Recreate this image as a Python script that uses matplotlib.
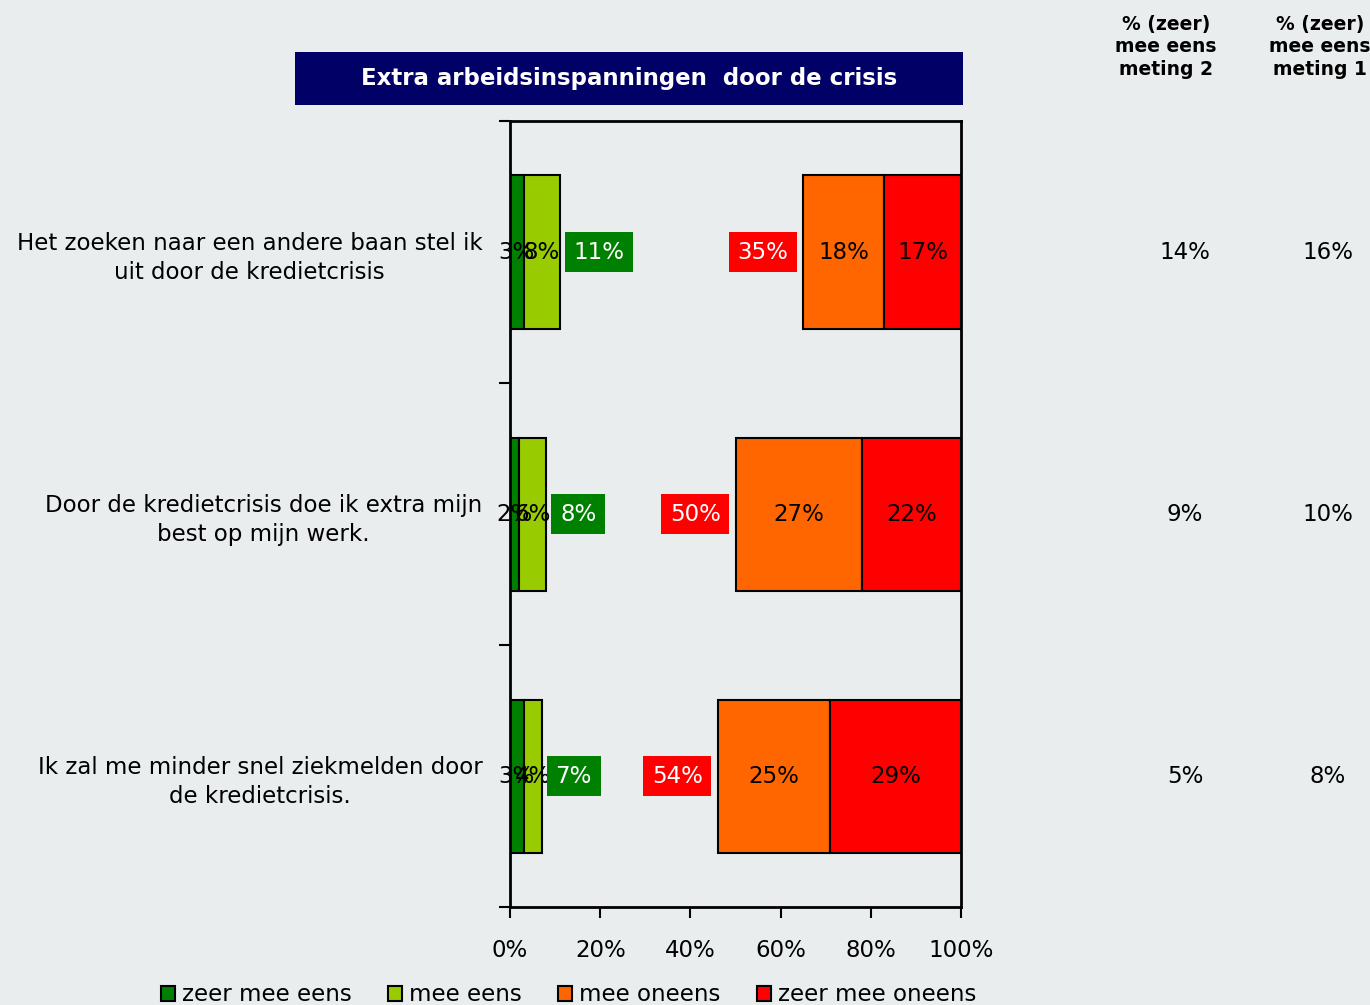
import matplotlib
matplotlib.use("Agg")
from matplotlib import pyplot as plt
from matplotlib.patches import Rectangle, Patch

categories = ["Het zoeken naar een andere baan stel ik\nuit door de kredietcrisis",
              "Door de kredietcrisis doe ik extra mijn\nbest op mijn werk.",
              "Ik zal me minder snel ziekmelden door\nde kredietcrisis."]
zeer_eens = [3, 2, 3]
eens = [8, 6, 4]
oneens = [18, 27, 25]
zeer_oneens = [17, 22, 29]
totaal_eens = [11, 8, 7]
totaal_oneens = [35, 50, 54]
meting2 = ["14%", "9%", "5%"]
meting1 = ["16%", "10%", "8%"]
legend_labels = ["zeer mee eens", "mee eens", "mee oneens", "zeer mee oneens"]
x_ticks = [0, 20, 40, 60, 80, 100]

bg = "#E9EDEE"
c_dg = "#008000"
c_lg = "#99CC00"
c_or = "#FF6600"
c_rd = "#FF0000"

plt.rcParams['font.family'] = ['DejaVu Sans']

fig = plt.figure(figsize=(13.7, 10.05), dpi=100)
fig.patch.set_facecolor(bg)
ax = fig.add_axes([0.3723, 0.0975, 0.3292, 0.7821])
ax.set_facecolor(bg)

y = list(range(len(categories)))
h = 0.584
fs = 16.5

for i in y:
    ax.barh(i, zeer_eens[i], left=0, height=h, color=c_dg, edgecolor="black", linewidth=1.5)
    ax.barh(i, eens[i], left=zeer_eens[i], height=h, color=c_lg, edgecolor="black", linewidth=1.5)
    start = 100 - totaal_oneens[i]
    red_start = 100 - zeer_oneens[i]
    ax.barh(i, red_start - start, left=start, height=h, color=c_or, edgecolor="black", linewidth=1.5)
    ax.barh(i, zeer_oneens[i], left=red_start, height=h, color=c_rd, edgecolor="black", linewidth=1.5)

    ax.text(zeer_eens[i] / 2, i, "%d%%" % zeer_eens[i], ha="center", va="center", fontsize=fs)
    ax.text(zeer_eens[i] + eens[i] / 2, i, "%d%%" % eens[i], ha="center", va="center", fontsize=fs)
    ax.text((start + red_start) / 2, i, "%d%%" % oneens[i], ha="center", va="center", fontsize=fs)
    ax.text((red_start + 100) / 2, i, "%d%%" % zeer_oneens[i], ha="center", va="center", fontsize=fs)

    # totals in coloured boxes
    ax.text(totaal_eens[i] + 3.1, i, "%d%%" % totaal_eens[i], ha="left", va="center", fontsize=fs,
            color="white", bbox=dict(boxstyle="square,pad=0.38", fc=c_dg, ec="none"))
    ax.text(start - 3.3, i, "%d%%" % totaal_oneens[i], ha="right", va="center", fontsize=fs,
            color="white", bbox=dict(boxstyle="square,pad=0.38", fc=c_rd, ec="none"))

ax.set_xlim(0, 100)
ax.set_ylim(len(categories) - 0.5, -0.5)

ax.set_xticks(x_ticks)
ax.set_xticklabels(["%d%%" % v for v in x_ticks], fontsize=fs)
ax.tick_params(axis="x", direction="out", length=8, width=1.5, pad=15)
ax.set_yticks(y)
ax.set_yticklabels(categories, fontsize=fs, multialignment="center", linespacing=1.35)
ax.tick_params(axis="y", which="major", length=0, pad=20)
ax.set_yticks([-0.5, 0.5, 1.5, 2.5], minor=True)
ax.tick_params(axis="y", which="minor", direction="out", length=8, width=1.5)
for s in ax.spines.values():
    s.set_linewidth(2)

# right hand columns
for i in y:
    yy = ax.transData.transform((0, i))[1] / fig.bbox.height
    fig.text(1185 / 1370, yy, meting2[i], ha="center", va="center", fontsize=fs)
    fig.text(1328 / 1370, yy, meting1[i], ha="center", va="center", fontsize=fs)
fig.text(1166 / 1370, 1 - 47 / 1005, "% (zeer)\nmee eens\nmeting 2", ha="center", va="center",
         fontsize=13.5, fontweight="bold", linespacing=1.25)
fig.text(1320 / 1370, 1 - 47 / 1005, "% (zeer)\nmee eens\nmeting 1", ha="center", va="center",
         fontsize=13.5, fontweight="bold", linespacing=1.25)

# title box
fig.patches.append(Rectangle((295 / 1370, 1 - 105 / 1005), 668 / 1370, 53 / 1005,
                             transform=fig.transFigure, facecolor="#000066", edgecolor="none"))
fig.text(629 / 1370, 1 - 79 / 1005, "Extra arbeidsinspanningen  door de crisis", ha="center",
         va="center", color="white", fontsize=16.5, fontweight="bold")

handles = [Patch(facecolor=c, edgecolor="black", linewidth=1.5) for c in [c_dg, c_lg, c_or, c_rd]]
fig.legend(handles, legend_labels, loc="center", bbox_to_anchor=(0.415, 0.01), ncol=4,
           frameon=False, fontsize=fs, handlelength=0.6, handleheight=0.6, handletextpad=0.3,
           columnspacing=1.6, borderpad=0)

fig.savefig("out.png", dpi=100, facecolor=bg)
